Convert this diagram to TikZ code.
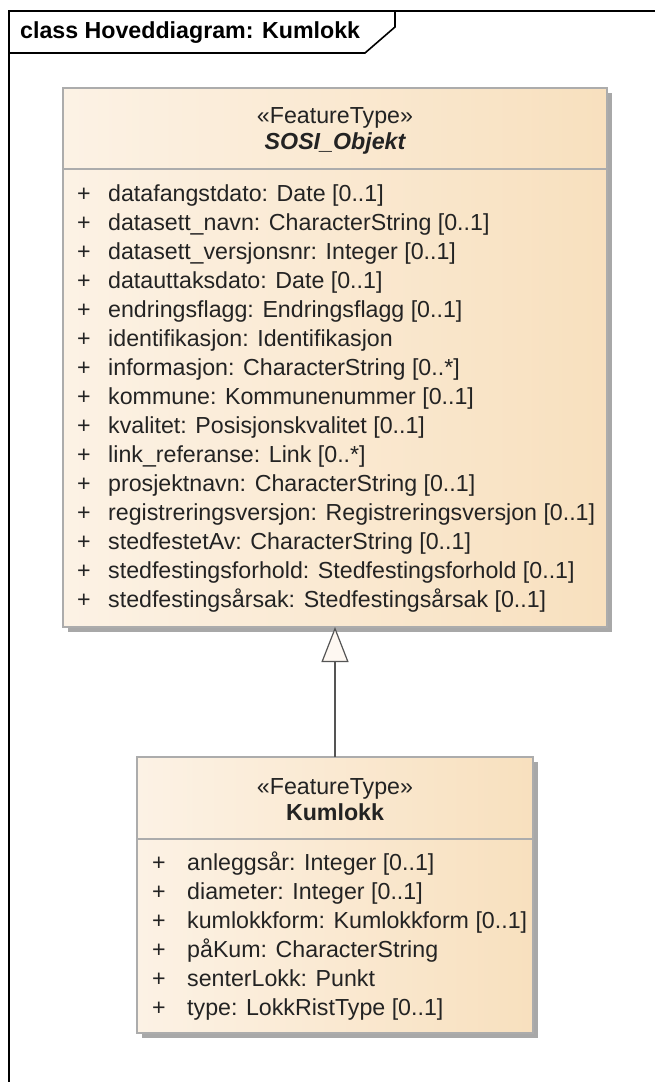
\documentclass[tikz,border=0pt]{standalone}
\usepackage{fontspec}
\setmainfont{Liberation Sans}
\usetikzlibrary{arrows.meta,shadows}
\definecolor{fillL}{RGB}{252,242,229}
\definecolor{fillR}{RGB}{248,224,190}
\definecolor{bordergray}{RGB}{172,172,172}
\definecolor{shadowgray}{RGB}{168,168,168}
\definecolor{linegray}{RGB}{85,85,85}
\definecolor{txt}{RGB}{35,35,35}
\begin{document}
\begin{tikzpicture}[x=1pt,y=-1pt,
  classbox/.style={draw=bordergray, line width=1.2pt, left color=fillL, right color=fillR,
    anchor=north west, inner sep=0pt, outer sep=0pt,
    drop shadow={shadow xshift=5pt, shadow yshift=-5pt, fill=shadowgray, opacity=1}},
  sepline/.style={draw=bordergray, line width=1.2pt},
  frameline/.style={draw=black, line width=1.6pt, line join=miter},
  txtbase/.style={inner sep=0pt, text height=17pt, text depth=5pt, text=txt,
    font=\fontsize{23.2}{29}\selectfont},
  attr/.style={txtbase, anchor=west},
  hdr/.style={txtbase, anchor=center},
  gen/.style={draw=linegray, line width=1.2pt,
    -{Triangle[open, length=35pt, width=27pt, fill=fillL!50!white]}}
]
\useasboundingbox (0,0) rectangle (655,1082);
\fill[white] (0,0) rectangle (655,1082);

% frame
\draw[frameline] (9,1095) -- (9,11) -- (670,11);
\draw[frameline] (9,53) -- (365,53) -- (395,27) -- (395,11);
\node[attr, font=\fontsize{23.2}{29}\selectfont\bfseries, text=black] (title) at (20,32) {class Hoveddiagram: Kumlokk};

% SOSI_Objekt
\node[classbox, minimum width=544pt, minimum height=539pt] (sosi) at (63,88) {};
\draw[sepline] (63,169) -- (607,169);
\node[hdr] (sosiSt) at (335,117) {«FeatureType»};
\node[hdr, font=\fontsize{23.2}{29}\selectfont\bfseries\itshape] (sosiNm) at (335,143) {SOSI\_Objekt};
\foreach \i/\t in {0/{datafangstdato: Date [0..1]},
  1/{datasett\_navn: CharacterString [0..1]},
  2/{datasett\_versjonsnr: Integer [0..1]},
  3/{datauttaksdato: Date [0..1]},
  4/{endringsflagg: Endringsflagg [0..1]},
  5/{identifikasjon: Identifikasjon},
  6/{informasjon: CharacterString [0..*]},
  7/{kommune: Kommunenummer [0..1]},
  8/{kvalitet: Posisjonskvalitet [0..1]},
  9/{link\_referanse: Link [0..*]},
  10/{prosjektnavn: CharacterString [0..1]},
  11/{registreringsversjon: Registreringsversjon [0..1]},
  12/{stedfestetAv: CharacterString [0..1]},
  13/{stedfestingsforhold: Stedfestingsforhold [0..1]},
  14/{stedfestingsårsak: Stedfestingsårsak [0..1]}}{
  \node[attr] (sp\i) at (77,195+29*\i) {+};
  \node[attr] (sa\i) at (108,195+29*\i) {\t};
}

% Kumlokk
\node[classbox, minimum width=396pt, minimum height=276pt] (kum) at (137,757) {};
\draw[sepline] (137,839) -- (533,839);
\node[hdr] (kumSt) at (335,788) {«FeatureType»};
\node[hdr, font=\fontsize{23.2}{29}\selectfont\bfseries] (kumNm) at (335,814) {Kumlokk};
\foreach \i/\t in {0/{anleggsår: Integer [0..1]},
  1/{diameter: Integer [0..1]},
  2/{kumlokkform: Kumlokkform [0..1]},
  3/{påKum: CharacterString},
  4/{senterLokk: Punkt},
  5/{type: LokkRistType [0..1]}}{
  \node[attr] (kp\i) at (152,864+29*\i) {+};
  \node[attr] (ka\i) at (187,864+29*\i) {\t};
}

% generalization
\draw[gen] (kum.north) -- (sosi.south);
\end{tikzpicture}
\end{document}
